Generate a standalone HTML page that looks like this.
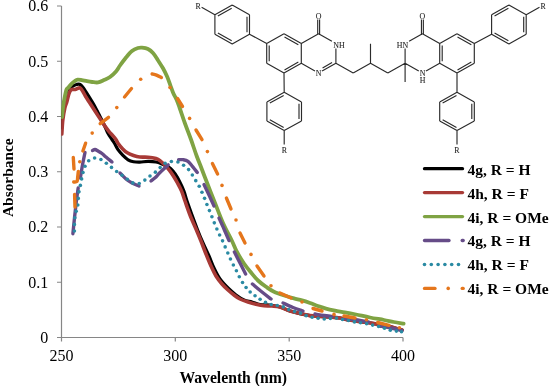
<!DOCTYPE html>
<html><head><meta charset="utf-8"><style>
html,body{margin:0;padding:0;background:#fff;}
body{width:550px;height:386px;overflow:hidden;}
svg{display:block;will-change:transform;}
</style></head><body>
<svg width="550" height="386" viewBox="0 0 550 386">
<rect width="550" height="386" fill="#fff"/>
<g stroke="#868686" stroke-width="1.2" fill="none">
<path d="M61.5,6 V341.5 M57,337.5 H403 M57,6 H61.5 M57,61.25 H61.5 M57,116.5 H61.5 M57,171.75 H61.5 M57,227 H61.5 M57,282.25 H61.5 M175.3,337.5 V341.5 M289.2,337.5 V341.5 M403,337.5 V341.5"/>
</g>
<clipPath id="pa"><rect x="61.2" y="0" width="345" height="337.8"/></clipPath><g clip-path="url(#pa)">
<path d="M61.80,128.00 C61.97,125.50 62.40,117.17 62.80,113.00 C63.20,108.83 63.62,105.83 64.20,103.00 C64.78,100.17 65.60,98.08 66.30,96.00 C67.00,93.92 67.70,91.95 68.40,90.50 C69.10,89.05 69.65,88.08 70.50,87.30 C71.35,86.52 72.50,86.27 73.50,85.80 C74.50,85.33 75.48,84.75 76.50,84.50 C77.52,84.25 78.57,83.88 79.60,84.30 C80.63,84.72 81.67,85.77 82.70,87.00 C83.73,88.23 84.63,89.88 85.80,91.70 C86.97,93.52 88.42,95.85 89.70,97.90 C90.98,99.95 92.28,101.90 93.50,104.00 C94.72,106.10 95.83,108.25 97.00,110.50 C98.17,112.75 99.25,115.00 100.50,117.50 C101.75,120.00 103.23,122.82 104.50,125.50 C105.77,128.18 106.85,131.27 108.10,133.60 C109.35,135.93 110.97,137.93 112.00,139.50 C113.03,141.07 113.30,141.30 114.30,143.00 C115.30,144.70 116.60,147.68 118.00,149.70 C119.40,151.72 121.02,153.42 122.70,155.10 C124.38,156.78 126.30,158.70 128.10,159.80 C129.90,160.90 131.55,161.32 133.50,161.70 C135.45,162.08 137.38,162.15 139.80,162.10 C142.22,162.05 145.30,161.42 148.00,161.40 C150.70,161.38 153.67,161.57 156.00,162.00 C158.33,162.43 160.17,163.25 162.00,164.00 C163.83,164.75 165.58,165.75 167.00,166.50 C168.42,167.25 169.13,167.25 170.50,168.50 C171.87,169.75 173.65,171.75 175.20,174.00 C176.75,176.25 178.35,179.15 179.80,182.00 C181.25,184.85 182.70,187.93 183.90,191.10 C185.10,194.27 185.65,197.02 187.00,201.00 C188.35,204.98 190.17,210.00 192.00,215.00 C193.83,220.00 196.17,226.33 198.00,231.00 C199.83,235.67 201.17,238.83 203.00,243.00 C204.83,247.17 207.17,251.83 209.00,256.00 C210.83,260.17 212.17,264.17 214.00,268.00 C215.83,271.83 217.67,275.67 220.00,279.00 C222.33,282.33 225.33,285.33 228.00,288.00 C230.67,290.67 233.33,293.00 236.00,295.00 C238.67,297.00 241.33,298.83 244.00,300.00 C246.67,301.17 249.33,301.25 252.00,302.00 C254.67,302.75 257.00,304.00 260.00,304.50 C263.00,305.00 266.67,304.58 270.00,305.00 C273.33,305.42 276.67,306.00 280.00,307.00 C283.33,308.00 286.67,309.90 290.00,311.00 C293.33,312.10 296.67,312.83 300.00,313.60 C303.33,314.37 306.67,315.13 310.00,315.60 C313.33,316.07 316.67,316.17 320.00,316.40 C323.33,316.63 326.67,316.73 330.00,317.00 C333.33,317.27 336.83,317.50 340.00,318.00 C343.17,318.50 345.17,319.33 349.00,320.00 C352.83,320.67 358.83,321.40 363.00,322.00 C367.17,322.60 369.83,322.93 374.00,323.60 C378.17,324.27 383.33,324.93 388.00,326.00 C392.67,327.07 399.67,329.33 402.00,330.00" stroke="#000000" stroke-width="3.2" fill="none" stroke-linecap="round" stroke-linejoin="round"/>
<path d="M61.80,134.00 C61.97,131.67 62.30,124.33 62.80,120.00 C63.30,115.67 64.13,111.02 64.80,108.00 C65.47,104.98 66.10,104.32 66.80,101.90 C67.50,99.48 68.22,95.57 69.00,93.50 C69.78,91.43 70.48,90.17 71.50,89.50 C72.52,88.83 73.90,89.75 75.10,89.50 C76.30,89.25 77.78,88.20 78.70,88.00 C79.62,87.80 79.90,87.72 80.60,88.30 C81.30,88.88 82.08,90.17 82.90,91.50 C83.72,92.83 84.32,94.33 85.50,96.30 C86.68,98.27 88.42,100.85 90.00,103.30 C91.58,105.75 93.40,108.53 95.00,111.00 C96.60,113.47 98.07,115.75 99.60,118.10 C101.13,120.45 102.65,122.90 104.20,125.10 C105.75,127.30 107.47,129.55 108.90,131.30 C110.33,133.05 111.63,134.25 112.80,135.60 C113.97,136.95 115.03,138.13 115.90,139.40 C116.77,140.67 116.87,141.62 118.00,143.20 C119.13,144.78 121.15,147.30 122.70,148.90 C124.25,150.50 125.50,151.70 127.30,152.80 C129.10,153.90 131.42,154.80 133.50,155.50 C135.58,156.20 137.38,156.72 139.80,157.00 C142.22,157.28 145.30,156.93 148.00,157.20 C150.70,157.47 154.00,158.03 156.00,158.60 C158.00,159.17 158.55,159.53 160.00,160.60 C161.45,161.67 163.15,163.42 164.70,165.00 C166.25,166.58 167.85,168.27 169.30,170.10 C170.75,171.93 172.03,173.85 173.40,176.00 C174.77,178.15 176.13,180.48 177.50,183.00 C178.87,185.52 180.35,188.10 181.60,191.10 C182.85,194.10 183.60,197.02 185.00,201.00 C186.40,204.98 188.17,210.33 190.00,215.00 C191.83,219.67 194.17,224.67 196.00,229.00 C197.83,233.33 199.33,236.83 201.00,241.00 C202.67,245.17 204.33,249.83 206.00,254.00 C207.67,258.17 209.33,262.33 211.00,266.00 C212.67,269.67 214.17,273.00 216.00,276.00 C217.83,279.00 220.00,281.67 222.00,284.00 C224.00,286.33 226.00,288.17 228.00,290.00 C230.00,291.83 232.00,293.50 234.00,295.00 C236.00,296.50 237.67,297.83 240.00,299.00 C242.33,300.17 245.33,301.12 248.00,302.00 C250.67,302.88 253.33,303.67 256.00,304.30 C258.67,304.93 261.33,305.52 264.00,305.80 C266.67,306.08 269.33,305.80 272.00,306.00 C274.67,306.20 277.00,306.17 280.00,307.00 C283.00,307.83 286.67,309.90 290.00,311.00 C293.33,312.10 296.67,312.83 300.00,313.60 C303.33,314.37 306.67,315.13 310.00,315.60 C313.33,316.07 316.67,316.17 320.00,316.40 C323.33,316.63 326.67,316.73 330.00,317.00 C333.33,317.27 336.83,317.50 340.00,318.00 C343.17,318.50 345.17,319.33 349.00,320.00 C352.83,320.67 358.83,321.40 363.00,322.00 C367.17,322.60 369.83,322.93 374.00,323.60 C378.17,324.27 383.33,324.93 388.00,326.00 C392.67,327.07 399.67,329.33 402.00,330.00" stroke="#A83A36" stroke-width="3.6" fill="none" stroke-linecap="round" stroke-linejoin="round"/>
<path d="M62.00,117.00 C62.20,115.17 62.73,109.38 63.20,106.00 C63.67,102.62 64.25,99.45 64.80,96.70 C65.35,93.95 65.90,91.05 66.50,89.50 C67.10,87.95 67.57,88.35 68.40,87.40 C69.23,86.45 70.47,84.83 71.50,83.80 C72.53,82.77 73.57,81.90 74.60,81.20 C75.63,80.50 76.50,79.78 77.70,79.60 C78.90,79.42 80.25,79.83 81.80,80.10 C83.35,80.37 85.27,80.88 87.00,81.20 C88.73,81.52 90.37,81.80 92.20,82.00 C94.03,82.20 96.03,82.73 98.00,82.40 C99.97,82.07 102.00,80.90 104.00,80.00 C106.00,79.10 108.00,78.42 110.00,77.00 C112.00,75.58 114.33,73.42 116.00,71.50 C117.67,69.58 118.33,67.83 120.00,65.50 C121.67,63.17 124.00,59.92 126.00,57.50 C128.00,55.08 130.00,52.58 132.00,51.00 C134.00,49.42 136.33,48.57 138.00,48.00 C139.67,47.43 140.33,47.43 142.00,47.60 C143.67,47.77 146.17,48.10 148.00,49.00 C149.83,49.90 151.37,51.17 153.00,53.00 C154.63,54.83 156.13,57.45 157.80,60.00 C159.47,62.55 161.45,65.53 163.00,68.30 C164.55,71.07 165.90,73.83 167.10,76.60 C168.30,79.37 169.17,82.13 170.20,84.90 C171.23,87.67 172.25,90.77 173.30,93.20 C174.35,95.63 175.47,97.12 176.50,99.50 C177.53,101.88 178.08,103.50 179.50,107.50 C180.92,111.50 183.08,118.17 185.00,123.50 C186.92,128.83 189.08,134.17 191.00,139.50 C192.92,144.83 194.83,150.92 196.50,155.50 C198.17,160.08 199.58,163.33 201.00,167.00 C202.42,170.67 202.67,171.50 205.00,177.50 C207.33,183.50 212.00,195.42 215.00,203.00 C218.00,210.58 220.17,216.67 223.00,223.00 C225.83,229.33 229.67,236.17 232.00,241.00 C234.33,245.83 235.00,248.25 237.00,252.00 C239.00,255.75 241.67,260.08 244.00,263.50 C246.33,266.92 248.67,269.67 251.00,272.50 C253.33,275.33 255.50,278.12 258.00,280.50 C260.50,282.88 263.33,284.92 266.00,286.80 C268.67,288.68 270.67,290.27 274.00,291.80 C277.33,293.33 282.67,294.90 286.00,296.00 C289.33,297.10 291.33,297.67 294.00,298.40 C296.67,299.13 299.33,299.63 302.00,300.40 C304.67,301.17 307.33,302.07 310.00,303.00 C312.67,303.93 315.33,305.07 318.00,306.00 C320.67,306.93 323.17,307.83 326.00,308.60 C328.83,309.37 331.87,309.98 335.00,310.60 C338.13,311.22 341.30,311.65 344.80,312.30 C348.30,312.95 351.80,313.63 356.00,314.50 C360.20,315.37 365.33,316.58 370.00,317.50 C374.67,318.42 380.03,319.25 384.00,320.00 C387.97,320.75 390.53,321.40 393.80,322.00 C397.07,322.60 401.97,323.33 403.60,323.60" stroke="#7FA343" stroke-width="3.8" fill="none" stroke-linecap="round" stroke-linejoin="round"/>
<path d="M72.90,233.70 C73.17,231.08 73.90,223.62 74.50,218.00 C75.10,212.38 75.88,205.00 76.50,200.00 C77.12,195.00 77.92,190.00 78.20,188.00" stroke="#664C88" stroke-width="3.4" fill="none" stroke-linecap="round" stroke-linejoin="round"/>
<path d="M80.30,178.00 C80.67,175.83 81.72,169.25 82.50,165.00 C83.28,160.75 84.58,154.58 85.00,152.50" stroke="#664C88" stroke-width="3.4" fill="none" stroke-linecap="round" stroke-linejoin="round"/>
<path d="M92.50,150.50 C92.92,150.33 94.08,149.42 95.00,149.50 C95.92,149.58 96.83,150.33 98.00,151.00 C99.17,151.67 100.67,152.50 102.00,153.50 C103.33,154.50 104.33,155.58 106.00,157.00 C107.67,158.42 111.00,161.17 112.00,162.00" stroke="#664C88" stroke-width="3.4" fill="none" stroke-linecap="round" stroke-linejoin="round"/>
<path d="M120.00,173.00 C121.00,174.00 124.00,177.33 126.00,179.00 C128.00,180.67 129.83,181.83 132.00,183.00 C134.17,184.17 137.83,185.50 139.00,186.00" stroke="#664C88" stroke-width="3.4" fill="none" stroke-linecap="round" stroke-linejoin="round"/>
<path d="M151.00,181.00 C151.83,180.33 154.50,178.42 156.00,177.00 C157.50,175.58 157.97,174.52 160.00,172.50 C162.03,170.48 166.83,166.17 168.20,164.90" stroke="#664C88" stroke-width="3.4" fill="none" stroke-linecap="round" stroke-linejoin="round"/>
<path d="M178.60,159.70 C179.38,159.70 181.73,159.42 183.30,159.70 C184.87,159.98 186.45,160.25 188.00,161.40 C189.55,162.55 191.05,164.75 192.60,166.60 C194.15,168.45 196.52,171.52 197.30,172.50" stroke="#664C88" stroke-width="3.4" fill="none" stroke-linecap="round" stroke-linejoin="round"/>
<path d="M204.00,184.50 C204.83,186.25 207.33,191.42 209.00,195.00 C210.67,198.58 213.17,204.17 214.00,206.00" stroke="#664C88" stroke-width="3.4" fill="none" stroke-linecap="round" stroke-linejoin="round"/>
<path d="M219.00,218.00 C219.83,219.83 222.33,225.23 224.00,229.00 C225.67,232.77 228.17,238.67 229.00,240.60" stroke="#664C88" stroke-width="3.4" fill="none" stroke-linecap="round" stroke-linejoin="round"/>
<path d="M234.40,252.00 C235.33,253.83 238.13,259.33 240.00,263.00 C241.87,266.67 244.67,272.17 245.60,274.00" stroke="#664C88" stroke-width="3.4" fill="none" stroke-linecap="round" stroke-linejoin="round"/>
<path d="M252.40,284.00 C254.00,285.33 258.90,289.50 262.00,292.00 C265.10,294.50 269.50,297.83 271.00,299.00" stroke="#664C88" stroke-width="3.4" fill="none" stroke-linecap="round" stroke-linejoin="round"/>
<path d="M283.00,303.00 C284.67,303.75 289.67,306.17 293.00,307.50 C296.33,308.83 301.33,310.42 303.00,311.00" stroke="#664C88" stroke-width="3.4" fill="none" stroke-linecap="round" stroke-linejoin="round"/>
<path d="M315.00,314.00 C316.50,314.25 321.17,315.08 324.00,315.50 C326.83,315.92 330.67,316.33 332.00,316.50" stroke="#664C88" stroke-width="3.4" fill="none" stroke-linecap="round" stroke-linejoin="round"/>
<path d="M345.00,318.50 C346.83,318.72 352.07,319.22 356.00,319.80 C359.93,320.38 366.50,321.63 368.60,322.00" stroke="#664C88" stroke-width="3.4" fill="none" stroke-linecap="round" stroke-linejoin="round"/>
<path d="M380.00,326.00 C381.83,326.33 387.33,327.23 391.00,328.00 C394.67,328.77 400.17,330.17 402.00,330.60" stroke="#664C88" stroke-width="3.4" fill="none" stroke-linecap="round" stroke-linejoin="round"/>
<circle cx="74.40" cy="231.00" r="1.8" fill="#2A8AA3"/>
<circle cx="74.38" cy="224.40" r="1.8" fill="#2A8AA3"/>
<circle cx="74.83" cy="217.82" r="1.8" fill="#2A8AA3"/>
<circle cx="76.16" cy="211.36" r="1.8" fill="#2A8AA3"/>
<circle cx="77.82" cy="204.97" r="1.8" fill="#2A8AA3"/>
<circle cx="78.27" cy="198.40" r="1.8" fill="#2A8AA3"/>
<circle cx="78.97" cy="191.84" r="1.8" fill="#2A8AA3"/>
<circle cx="80.36" cy="185.39" r="1.8" fill="#2A8AA3"/>
<circle cx="81.62" cy="178.91" r="1.8" fill="#2A8AA3"/>
<circle cx="83.00" cy="172.46" r="1.8" fill="#2A8AA3"/>
<circle cx="85.02" cy="166.18" r="1.8" fill="#2A8AA3"/>
<circle cx="88.71" cy="160.75" r="1.8" fill="#2A8AA3"/>
<circle cx="94.61" cy="158.05" r="1.8" fill="#2A8AA3"/>
<circle cx="100.93" cy="159.48" r="1.8" fill="#2A8AA3"/>
<circle cx="106.34" cy="163.25" r="1.8" fill="#2A8AA3"/>
<circle cx="111.48" cy="167.39" r="1.8" fill="#2A8AA3"/>
<circle cx="116.66" cy="171.48" r="1.8" fill="#2A8AA3"/>
<circle cx="122.05" cy="175.28" r="1.8" fill="#2A8AA3"/>
<circle cx="127.33" cy="179.24" r="1.8" fill="#2A8AA3"/>
<circle cx="132.80" cy="182.92" r="1.8" fill="#2A8AA3"/>
<circle cx="139.24" cy="183.53" r="1.8" fill="#2A8AA3"/>
<circle cx="144.85" cy="180.11" r="1.8" fill="#2A8AA3"/>
<circle cx="150.01" cy="175.99" r="1.8" fill="#2A8AA3"/>
<circle cx="155.39" cy="172.17" r="1.8" fill="#2A8AA3"/>
<circle cx="160.16" cy="167.61" r="1.8" fill="#2A8AA3"/>
<circle cx="165.09" cy="163.26" r="1.8" fill="#2A8AA3"/>
<circle cx="171.39" cy="161.43" r="1.8" fill="#2A8AA3"/>
<circle cx="177.92" cy="161.97" r="1.8" fill="#2A8AA3"/>
<circle cx="183.60" cy="165.28" r="1.8" fill="#2A8AA3"/>
<circle cx="188.59" cy="169.58" r="1.8" fill="#2A8AA3"/>
<circle cx="192.34" cy="175.00" r="1.8" fill="#2A8AA3"/>
<circle cx="195.77" cy="180.64" r="1.8" fill="#2A8AA3"/>
<circle cx="199.21" cy="186.28" r="1.8" fill="#2A8AA3"/>
<circle cx="201.98" cy="192.26" r="1.8" fill="#2A8AA3"/>
<circle cx="204.57" cy="198.33" r="1.8" fill="#2A8AA3"/>
<circle cx="206.92" cy="204.50" r="1.8" fill="#2A8AA3"/>
<circle cx="209.42" cy="210.61" r="1.8" fill="#2A8AA3"/>
<circle cx="211.92" cy="216.71" r="1.8" fill="#2A8AA3"/>
<circle cx="214.31" cy="222.87" r="1.8" fill="#2A8AA3"/>
<circle cx="216.86" cy="228.95" r="1.8" fill="#2A8AA3"/>
<circle cx="219.62" cy="234.95" r="1.8" fill="#2A8AA3"/>
<circle cx="222.56" cy="240.85" r="1.8" fill="#2A8AA3"/>
<circle cx="225.16" cy="246.92" r="1.8" fill="#2A8AA3"/>
<circle cx="227.80" cy="252.97" r="1.8" fill="#2A8AA3"/>
<circle cx="230.44" cy="259.01" r="1.8" fill="#2A8AA3"/>
<circle cx="233.35" cy="264.93" r="1.8" fill="#2A8AA3"/>
<circle cx="236.40" cy="270.78" r="1.8" fill="#2A8AA3"/>
<circle cx="239.30" cy="276.71" r="1.8" fill="#2A8AA3"/>
<circle cx="242.53" cy="282.46" r="1.8" fill="#2A8AA3"/>
<circle cx="246.08" cy="287.48" r="1.8" fill="#2A8AA3"/>
<circle cx="250.16" cy="292.06" r="1.8" fill="#2A8AA3"/>
<circle cx="255.05" cy="295.79" r="1.8" fill="#2A8AA3"/>
<circle cx="260.09" cy="299.31" r="1.8" fill="#2A8AA3"/>
<circle cx="265.50" cy="302.23" r="1.8" fill="#2A8AA3"/>
<circle cx="271.22" cy="304.46" r="1.8" fill="#2A8AA3"/>
<circle cx="277.27" cy="305.54" r="1.8" fill="#2A8AA3"/>
<circle cx="283.27" cy="306.88" r="1.8" fill="#2A8AA3"/>
<circle cx="288.76" cy="309.63" r="1.8" fill="#2A8AA3"/>
<circle cx="294.58" cy="311.60" r="1.8" fill="#2A8AA3"/>
<circle cx="300.53" cy="313.14" r="1.8" fill="#2A8AA3"/>
<circle cx="306.13" cy="315.65" r="1.8" fill="#2A8AA3"/>
<circle cx="312.06" cy="317.22" r="1.8" fill="#2A8AA3"/>
<circle cx="318.12" cy="318.28" r="1.8" fill="#2A8AA3"/>
<circle cx="324.23" cy="318.96" r="1.8" fill="#2A8AA3"/>
<circle cx="330.35" cy="318.56" r="1.8" fill="#2A8AA3"/>
<circle cx="336.48" cy="318.10" r="1.8" fill="#2A8AA3"/>
<circle cx="342.43" cy="319.52" r="1.8" fill="#2A8AA3"/>
<circle cx="348.46" cy="320.52" r="1.8" fill="#2A8AA3"/>
<circle cx="354.45" cy="321.89" r="1.8" fill="#2A8AA3"/>
<circle cx="360.53" cy="322.81" r="1.8" fill="#2A8AA3"/>
<circle cx="366.60" cy="323.75" r="1.8" fill="#2A8AA3"/>
<circle cx="372.60" cy="325.08" r="1.8" fill="#2A8AA3"/>
<circle cx="378.60" cy="326.41" r="1.8" fill="#2A8AA3"/>
<circle cx="384.49" cy="328.21" r="1.8" fill="#2A8AA3"/>
<circle cx="390.31" cy="330.17" r="1.8" fill="#2A8AA3"/>
<circle cx="396.38" cy="331.12" r="1.8" fill="#2A8AA3"/>
<circle cx="401.50" cy="331.70" r="1.8" fill="#2A8AA3"/>
<path d="M75.00,207.00 L74.60,194.50" stroke="#E5761C" stroke-width="3.4" fill="none" stroke-linecap="round" stroke-linejoin="round"/>
<path d="M73.70,182.00 C74.25,181.92 76.33,182.33 77.00,181.50 C77.67,180.67 77.48,178.68 77.70,177.00 C77.92,175.32 78.20,172.33 78.30,171.40" stroke="#E5761C" stroke-width="3.4" fill="none" stroke-linecap="round" stroke-linejoin="round"/>
<path d="M73.30,157.50 L74.00,169.00" stroke="#E5761C" stroke-width="3.4" fill="none" stroke-linecap="round" stroke-linejoin="round"/>
<path d="M82.90,151.00 L85.60,143.20" stroke="#E5761C" stroke-width="3.4" fill="none" stroke-linecap="round" stroke-linejoin="round"/>
<path d="M100.20,123.70 L108.50,117.40" stroke="#E5761C" stroke-width="3.4" fill="none" stroke-linecap="round" stroke-linejoin="round"/>
<path d="M124.50,97.00 L131.50,88.50" stroke="#E5761C" stroke-width="3.4" fill="none" stroke-linecap="round" stroke-linejoin="round"/>
<path d="M152.10,74.00 C152.83,74.20 154.95,74.60 156.50,75.20 C158.05,75.80 160.58,77.20 161.40,77.60" stroke="#E5761C" stroke-width="3.4" fill="none" stroke-linecap="round" stroke-linejoin="round"/>
<path d="M177.50,98.50 L182.50,106.50" stroke="#E5761C" stroke-width="3.4" fill="none" stroke-linecap="round" stroke-linejoin="round"/>
<path d="M196.00,130.00 L202.00,139.60" stroke="#E5761C" stroke-width="3.4" fill="none" stroke-linecap="round" stroke-linejoin="round"/>
<path d="M212.40,163.60 L217.60,174.00" stroke="#E5761C" stroke-width="3.4" fill="none" stroke-linecap="round" stroke-linejoin="round"/>
<path d="M226.40,198.00 L231.00,209.00" stroke="#E5761C" stroke-width="3.4" fill="none" stroke-linecap="round" stroke-linejoin="round"/>
<path d="M240.00,233.00 L245.00,243.00" stroke="#E5761C" stroke-width="3.4" fill="none" stroke-linecap="round" stroke-linejoin="round"/>
<path d="M257.00,266.00 L264.00,276.00" stroke="#E5761C" stroke-width="3.4" fill="none" stroke-linecap="round" stroke-linejoin="round"/>
<path d="M280.00,293.00 L291.00,298.00" stroke="#E5761C" stroke-width="3.4" fill="none" stroke-linecap="round" stroke-linejoin="round"/>
<path d="M313.00,308.50 L322.00,311.00" stroke="#E5761C" stroke-width="3.4" fill="none" stroke-linecap="round" stroke-linejoin="round"/>
<path d="M344.00,316.00 L355.00,318.00" stroke="#E5761C" stroke-width="3.4" fill="none" stroke-linecap="round" stroke-linejoin="round"/>
<path d="M377.70,322.50 L389.00,325.30" stroke="#E5761C" stroke-width="3.4" fill="none" stroke-linecap="round" stroke-linejoin="round"/>
<circle cx="79.8" cy="161.7" r="1.80" fill="#E5761C"/>
<circle cx="92.2" cy="133.1" r="1.80" fill="#E5761C"/>
<circle cx="116.8" cy="107.6" r="1.80" fill="#E5761C"/>
<circle cx="140.7" cy="79.2" r="1.80" fill="#E5761C"/>
<circle cx="170" cy="87.5" r="1.80" fill="#E5761C"/>
<circle cx="189.6" cy="118.4" r="1.80" fill="#E5761C"/>
<circle cx="207.4" cy="151.6" r="1.80" fill="#E5761C"/>
<circle cx="222" cy="185.4" r="1.80" fill="#E5761C"/>
<circle cx="236" cy="220" r="1.80" fill="#E5761C"/>
<circle cx="251" cy="254.4" r="1.80" fill="#E5761C"/>
<circle cx="271" cy="285.8" r="1.80" fill="#E5761C"/>
<circle cx="302" cy="302" r="1.80" fill="#E5761C"/>
<circle cx="334" cy="314.4" r="1.80" fill="#E5761C"/>
<circle cx="366.5" cy="319.7" r="1.80" fill="#E5761C"/>
<circle cx="399.4" cy="327.8" r="1.80" fill="#E5761C"/>
</g>
<text x="48.3" y="342.9" text-anchor="end" font-family="Liberation Serif" font-size="16" fill="#000">0</text>
<text x="48.3" y="287.6" text-anchor="end" font-family="Liberation Serif" font-size="16" fill="#000">0.1</text>
<text x="48.3" y="232.4" text-anchor="end" font-family="Liberation Serif" font-size="16" fill="#000">0.2</text>
<text x="48.3" y="177.2" text-anchor="end" font-family="Liberation Serif" font-size="16" fill="#000">0.3</text>
<text x="48.3" y="121.9" text-anchor="end" font-family="Liberation Serif" font-size="16" fill="#000">0.4</text>
<text x="48.3" y="66.7" text-anchor="end" font-family="Liberation Serif" font-size="16" fill="#000">0.5</text>
<text x="48.3" y="11.4" text-anchor="end" font-family="Liberation Serif" font-size="16" fill="#000">0.6</text>
<text x="61.5" y="360.8" text-anchor="middle" font-family="Liberation Serif" font-size="16" fill="#000">250</text>
<text x="175.3" y="360.8" text-anchor="middle" font-family="Liberation Serif" font-size="16" fill="#000">300</text>
<text x="289.2" y="360.8" text-anchor="middle" font-family="Liberation Serif" font-size="16" fill="#000">350</text>
<text x="403.0" y="360.8" text-anchor="middle" font-family="Liberation Serif" font-size="16" fill="#000">400</text>
<text x="233.2" y="383" text-anchor="middle" font-family="Liberation Serif" font-weight="bold" font-size="15.7">Wavelenth (nm)</text>
<text transform="translate(13.2,177.7) rotate(-90)" text-anchor="middle" font-family="Liberation Serif" font-weight="bold" font-size="15.4">Absorbance</text>
<line x1="424.5" y1="168.7" x2="462.5" y2="168.7" stroke="#000000" stroke-width="3.3" stroke-linecap="round"/>
<text x="467.5" y="174.6" font-family="Liberation Serif" font-weight="bold" font-size="15.5" fill="#000">4g, R = H</text>
<line x1="424.5" y1="192.6" x2="462.5" y2="192.6" stroke="#A83A36" stroke-width="3.3" stroke-linecap="round"/>
<text x="467.5" y="198.5" font-family="Liberation Serif" font-weight="bold" font-size="15.5" fill="#000">4h, R = F</text>
<line x1="424.5" y1="216.6" x2="462.5" y2="216.6" stroke="#7FA343" stroke-width="3.3" stroke-linecap="round"/>
<text x="467.5" y="222.5" font-family="Liberation Serif" font-weight="bold" font-size="15.5" fill="#000">4i, R = OMe</text>
<line x1="424.5" y1="240.5" x2="449" y2="240.5" stroke="#664C88" stroke-width="3.3" stroke-linecap="round"/>
<line x1="462.2" y1="240.5" x2="463.2" y2="240.5" stroke="#664C88" stroke-width="3.3" stroke-linecap="round"/>
<text x="467.5" y="246.4" font-family="Liberation Serif" font-weight="bold" font-size="15.5" fill="#000">4g, R = H</text>
<circle cx="424.5" cy="264.5" r="1.8" fill="#2A8AA3"/>
<circle cx="431.3" cy="264.5" r="1.8" fill="#2A8AA3"/>
<circle cx="438.1" cy="264.5" r="1.8" fill="#2A8AA3"/>
<circle cx="444.9" cy="264.5" r="1.8" fill="#2A8AA3"/>
<circle cx="451.7" cy="264.5" r="1.8" fill="#2A8AA3"/>
<circle cx="458.5" cy="264.5" r="1.8" fill="#2A8AA3"/>
<text x="467.5" y="270.4" font-family="Liberation Serif" font-weight="bold" font-size="15.5" fill="#000">4h, R = F</text>
<line x1="424.5" y1="288.4" x2="435" y2="288.4" stroke="#E5761C" stroke-width="3.3" stroke-linecap="round"/>
<circle cx="448.2" cy="288.4" r="1.8" fill="#E5761C"/>
<line x1="462.2" y1="288.4" x2="463.2" y2="288.4" stroke="#E5761C" stroke-width="3.3" stroke-linecap="round"/>
<text x="467.5" y="294.3" font-family="Liberation Serif" font-weight="bold" font-size="15.5" fill="#000">4i, R = OMe</text>
<path d="M284.00,33.80 L301.30,43.62 M301.30,43.62 L301.30,63.28 M301.30,63.28 L284.00,73.10 M284.00,73.10 L266.70,63.28 M266.70,63.28 L266.70,43.62 M266.70,43.62 L284.00,33.80 M284.50,36.96 L298.34,44.82 M298.34,62.08 L284.50,69.94 M269.20,61.31 L269.20,45.59 M232.20,5.10 L249.50,14.80 M249.50,14.80 L249.50,34.20 M249.50,34.20 L232.20,43.90 M232.20,43.90 L214.90,34.20 M214.90,34.20 L214.90,14.80 M214.90,14.80 L232.20,5.10 M217.85,16.01 L231.69,8.25 M247.00,16.74 L247.00,32.26 M231.69,40.75 L217.85,32.99 M284.20,92.30 L301.50,101.88 M301.50,101.88 L301.50,121.03 M301.50,121.03 L284.20,130.60 M284.20,130.60 L266.90,121.03 M266.90,121.03 L266.90,101.88 M266.90,101.88 L284.20,92.30 M269.84,103.10 L283.68,95.44 M299.00,103.79 L299.00,119.11 M283.68,127.46 L269.84,119.80 M457.00,33.80 L474.30,43.62 M474.30,43.62 L474.30,63.28 M474.30,63.28 L457.00,73.10 M457.00,73.10 L439.70,63.28 M439.70,63.28 L439.70,43.62 M439.70,43.62 L457.00,33.80 M457.50,36.96 L471.34,44.82 M471.34,62.08 L457.50,69.94 M442.20,61.31 L442.20,45.59 M508.90,5.10 L526.20,14.80 M526.20,14.80 L526.20,34.20 M526.20,34.20 L508.90,43.90 M508.90,43.90 L491.60,34.20 M491.60,34.20 L491.60,14.80 M491.60,14.80 L508.90,5.10 M494.55,16.01 L508.39,8.25 M523.70,16.74 L523.70,32.26 M508.39,40.75 L494.55,32.99 M457.00,92.30 L474.30,101.88 M474.30,101.88 L474.30,121.03 M474.30,121.03 L457.00,130.60 M457.00,130.60 L439.70,121.03 M439.70,121.03 L439.70,101.88 M439.70,101.88 L457.00,92.30 M442.64,103.10 L456.48,95.44 M471.80,103.79 L471.80,119.11 M456.48,127.46 L442.64,119.80 M249.50,34.20 L266.70,43.62 M284.00,73.10 L284.20,92.30 M474.30,43.62 L491.60,34.20 M457.00,73.10 L457.00,92.30 M301.30,43.62 L318.60,33.80 M318.60,33.80 L331.90,41.35 M335.90,48.42 L335.90,63.28 M335.90,63.28 L322.08,71.12 M332.07,62.57 L322.56,67.98 M314.95,71.03 L301.30,63.28 M317.70,19.60 L317.70,34.10 M319.60,19.60 L319.60,35.00 M335.90,63.28 L353.20,73.10 M353.20,73.10 L370.50,63.28 M370.50,63.28 L370.50,43.63 M370.50,63.28 L387.80,73.10 M387.80,73.10 L405.10,63.28 M422.40,33.80 L439.70,43.62 M422.40,33.80 L409.10,41.35 M405.10,63.28 L405.10,48.42 M405.10,63.28 L418.75,71.03 M426.05,71.03 L439.70,63.28 M405.10,63.28 L405.10,81.94 M421.45,19.60 L421.45,35.00 M423.35,19.60 L423.35,34.10 M214.90,14.80 L201.61,7.35 M526.20,14.80 L539.49,7.35 M284.20,130.60 L284.20,144.60 M457.00,130.60 L457.00,144.60" stroke="#2b2b2b" stroke-width="1.15" fill="none" stroke-linecap="butt"/>
<text x="198.2" y="9.3" text-anchor="middle" font-family="Liberation Serif" font-size="7.9" fill="#222" stroke="#222" stroke-width="0.08">R</text>
<text x="284.4" y="153.3" text-anchor="middle" font-family="Liberation Serif" font-size="7.9" fill="#222" stroke="#222" stroke-width="0.08">R</text>
<text x="543.2" y="9.0" text-anchor="middle" font-family="Liberation Serif" font-size="7.9" fill="#222" stroke="#222" stroke-width="0.08">R</text>
<text x="457.0" y="153.3" text-anchor="middle" font-family="Liberation Serif" font-size="7.9" fill="#222" stroke="#222" stroke-width="0.08">R</text>
<text x="318.6" y="18.6" text-anchor="middle" font-family="Liberation Serif" font-size="7.9" fill="#222" stroke="#222" stroke-width="0.08">O</text>
<text x="422.4" y="18.9" text-anchor="middle" font-family="Liberation Serif" font-size="7.9" fill="#222" stroke="#222" stroke-width="0.08">O</text>
<text x="333.3" y="47.9" text-anchor="start" font-family="Liberation Serif" font-size="7.9" fill="#222" stroke="#222" stroke-width="0.08">NH</text>
<text x="318.6" y="76.1" text-anchor="middle" font-family="Liberation Serif" font-size="7.9" fill="#222" stroke="#222" stroke-width="0.08">N</text>
<text x="408.2" y="47.9" text-anchor="end" font-family="Liberation Serif" font-size="7.9" fill="#222" stroke="#222" stroke-width="0.08">HN</text>
<text x="422.6" y="76.1" text-anchor="middle" font-family="Liberation Serif" font-size="7.9" fill="#222" stroke="#222" stroke-width="0.08">N</text>
<text x="422.6" y="83.1" text-anchor="middle" font-family="Liberation Serif" font-size="7.9" fill="#222" stroke="#222" stroke-width="0.08">H</text>
</svg>
</body></html>
